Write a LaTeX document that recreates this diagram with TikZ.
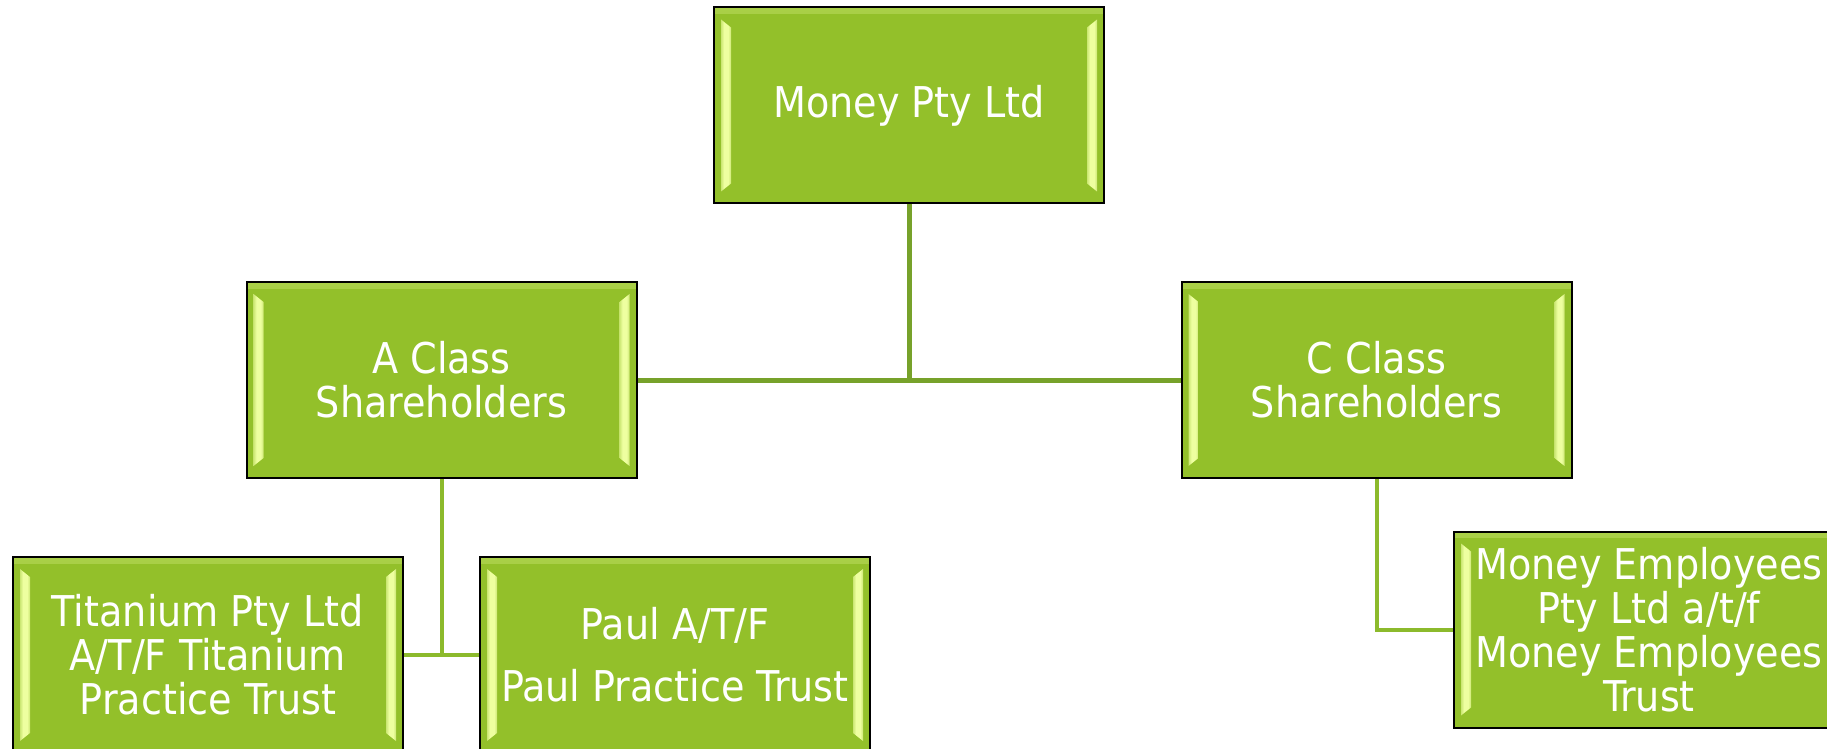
\documentclass[tikz,border=0pt]{standalone}
\usepackage{fontspec}
\setmainfont{DejaVu Sans Condensed}
\definecolor{boxgreen}{HTML}{93C02A}
\definecolor{hilite}{HTML}{EEFFA0}
\definecolor{linkdark}{HTML}{77A22A}
\definecolor{linklight}{HTML}{8CBA2C}
\pgfdeclarehorizontalshading{bevel}{100bp}{color(0bp)=(boxgreen); color(40bp)=(hilite); color(60bp)=(hilite); color(100bp)=(boxgreen)}
\begin{document}
\begin{tikzpicture}[x=0.5pt,y=-0.5pt,
    entity/.style={draw=black,line width=1pt,fill=boxgreen,text=white,align=center,
        minimum width=195pt,minimum height=98pt,inner sep=0pt,
        font=\fontsize{21.2}{22}\selectfont,
        path picture={
            \fill[top color=boxgreen!75!hilite,bottom color=boxgreen]
                (path picture bounding box.north west) rectangle
                ([yshift=-3pt]path picture bounding box.north east);
            \fill[shading=bevel]
                ([shift={(3.5pt,-6pt)}]path picture bounding box.north west) --
                ([shift={(8.5pt,-10pt)}]path picture bounding box.north west) --
                ([shift={(8.5pt,10pt)}]path picture bounding box.south west) --
                ([shift={(3.5pt,6pt)}]path picture bounding box.south west) -- cycle;
            \fill[shading=bevel]
                ([shift={(-3.5pt,-6pt)}]path picture bounding box.north east) --
                ([shift={(-8.5pt,-10pt)}]path picture bounding box.north east) --
                ([shift={(-8.5pt,10pt)}]path picture bounding box.south east) --
                ([shift={(-3.5pt,6pt)}]path picture bounding box.south east) -- cycle;
        }},
    link/.style={linkdark,line width=2.5pt},
    sublink/.style={linklight,line width=2pt}]
    \useasboundingbox(0,0)rectangle(1827,749);
    \clip(0,0)rectangle(1827,749);
    \node[entity](1)at(909,105.5){Money Pty Ltd};
    \node[entity](2)at(441.5,380){A Class\\Shareholders};
    \node[entity](3)at(1376.5,380){C Class\\Shareholders};
    \node[entity](4)at(208,655){Titanium Pty Ltd\\A/T/F Titanium\\Practice Trust};
    \node[entity](5)at(675,655){Paul A/T/F\\[9pt]Paul Practice Trust};
    \node[entity](6)at(1649,629.5){Money Employees\\Pty Ltd a/t/f\\Money Employees\\Trust};
    \draw[link](1.south)--(1.south|-2.east);
    \draw[link](2.east)--(3.west);
    \draw[sublink](2.south)--(2.south|-4.east);
    \draw[sublink](4.east)--(5.west);
    \draw[sublink](3.south)|-(6.west);
\end{tikzpicture}
\end{document}
